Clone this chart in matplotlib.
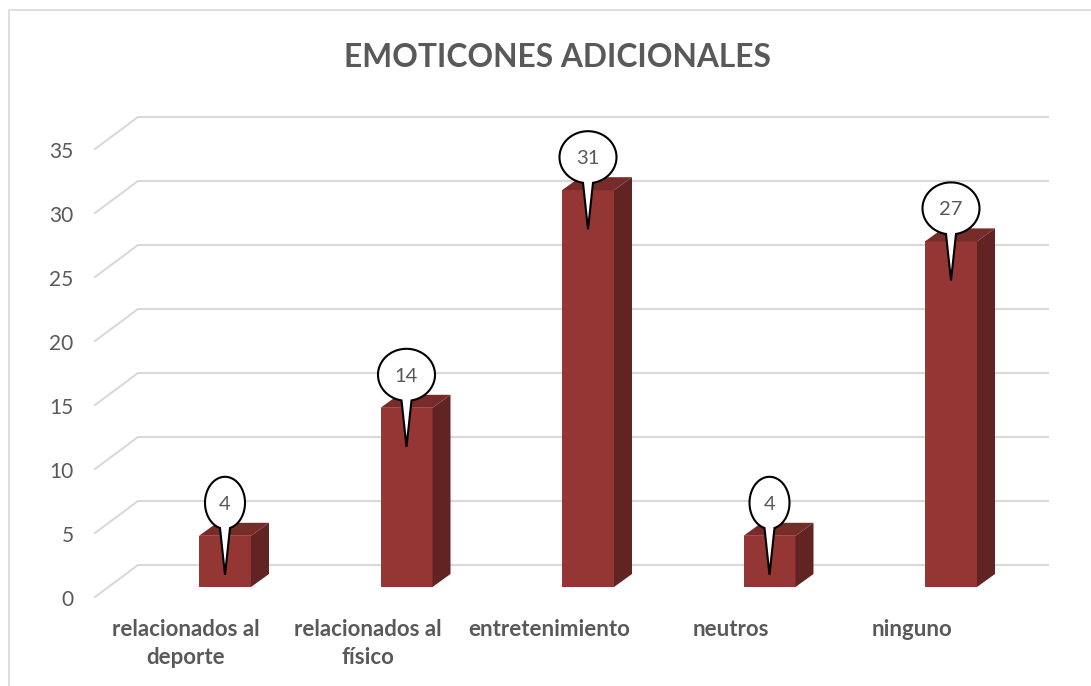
"""Recreate the EMOTICONES ADICIONALES 3D-look column chart with callout labels."""
from __future__ import annotations

import matplotlib

matplotlib.use("Agg")
import matplotlib.pyplot as plt
import numpy as np
from matplotlib.lines import Line2D
from matplotlib.patches import Polygon
from matplotlib.transforms import ScaledTranslation

TITLE = "EMOTICONES ADICIONALES"
CATEGORIES = ["relacionados al\ndeporte", "relacionados al\nfísico", "entretenimiento", "neutros", "ninguno"]
VALUES = [4, 14, 31, 4, 27]
Y_TICKS = [0, 5, 10, 15, 20, 25, 30, 35]

GRAY = "#595959"
GRID = "#d9d9d9"
FRONT = "#943634"
TOP = "#772c2a"
SIDE = "#622423"

W, H = 1091, 686
LEFT, RIGHT, AXIS_TOP, AXIS_BOTTOM = 95, 1048, 149, 597
FIRST_CENTER, SPACING = 225, 181.5
PX_X = 1 / SPACING
PX_Y = 35 / (AXIS_BOTTOM - AXIS_TOP)
LIFT = 10 * PX_Y  # bars sit 10 px above the front floor edge


def callout(ax, x, value):
    """Speech bubble with its tail pointing into the column."""
    half_w = (28.5 if value >= 10 else 20) * PX_X
    half_h = 26 * PX_Y
    cy = value + LIFT + 33 * PX_Y
    tip = value + LIFT - 39 * PX_Y
    gap = np.arcsin(5 * PX_X / half_w)
    theta = np.linspace(-np.pi / 2 + gap, 1.5 * np.pi - gap, 100)
    xs = x + half_w * np.cos(theta)
    ys = cy + half_h * np.sin(theta)
    pts = np.column_stack([np.append(xs, x), np.append(ys, tip)])
    ax.add_patch(Polygon(pts, closed=True, facecolor="white", edgecolor="black",
                         linewidth=1.5, joinstyle="miter", zorder=4, clip_on=False))
    ax.text(x, cy - 1.5 * PX_Y, str(value), ha="center", va="center", color=GRAY,
            fontsize=14.5, zorder=5)


def main():
    plt.rcParams["font.family"] = ["Lato", "DejaVu Sans"]

    fig = plt.figure(figsize=(W / 100, H / 100), dpi=100, facecolor="white")
    ax = fig.add_axes([LEFT / W, 1 - AXIS_BOTTOM / H, (RIGHT - LEFT) / W, (AXIS_BOTTOM - AXIS_TOP) / H])
    ax.set_xlim((LEFT - FIRST_CENTER) * PX_X, (RIGHT - FIRST_CENTER) * PX_X)
    ax.set_ylim(0, 35)
    ax.patch.set_visible(False)
    for spine in ax.spines.values():
        spine.set_visible(False)

    x_left = ax.get_xlim()[0]
    x_right = ax.get_xlim()[1]
    wall_dx = 43 * PX_X
    wall_dy = 32 * PX_Y
    for v in Y_TICKS:
        ax.plot([x_left, x_left + wall_dx, x_right], [v, v + wall_dy, v + wall_dy],
                color=GRID, linewidth=1.5, solid_joinstyle="miter", zorder=1, clip_on=False)

    # columns: front face from bar(), top and side faces as offset polygons
    x = np.arange(len(VALUES))
    bar_w = 52 * PX_X
    dx = 18 * PX_X
    dy = 13 * PX_Y
    ax.bar(x, VALUES, width=bar_w, bottom=LIFT, color=FRONT, zorder=3)
    for xi, v in zip(x, VALUES):
        xr = xi + bar_w / 2
        xl = xi - bar_w / 2
        top = v + LIFT
        ax.add_patch(Polygon([(xl, top), (xr, top), (xr + dx, top + dy), (xl + dx, top + dy)],
                             facecolor=TOP, edgecolor="none", zorder=3, clip_on=False))
        ax.add_patch(Polygon([(xr, LIFT), (xr + dx, LIFT + dy), (xr + dx, top + dy), (xr, top)],
                             facecolor=SIDE, edgecolor="none", zorder=3, clip_on=False))
        callout(ax, xi, v)

    ax.set_yticks(Y_TICKS)
    ax.tick_params(axis="y", length=0, pad=15.5, labelsize=15, labelcolor=GRAY)
    y_shift = ScaledTranslation(0, -1.5 / 100, fig.dpi_scale_trans)
    for label in ax.get_yticklabels():
        label.set_transform(label.get_transform() + y_shift)

    ax.set_xticks(x)
    ax.set_xticklabels(CATEGORIES, fontweight="bold", fontsize=16, color=GRAY, linespacing=1.37)
    ax.tick_params(axis="x", length=0, pad=16)
    shift = ScaledTranslation(-39 / 100, 0, fig.dpi_scale_trans)
    for label in ax.get_xticklabels():
        label.set_transform(label.get_transform() + shift)

    fig.text(557 / W, 1 - 57.5 / H, TITLE, ha="center", va="center", fontsize=22.9,
             fontweight="bold", color=GRAY)

    # chart frame runs off the right and bottom of the picture
    fig.add_artist(Line2D([9 / W, 9 / W, 1], [0, 1 - 10 / H, 1 - 10 / H],
                          transform=fig.transFigure, color=GRID, linewidth=1.2))

    fig.savefig("out.png", dpi=100)
    plt.close(fig)


if __name__ == "__main__":
    main()
